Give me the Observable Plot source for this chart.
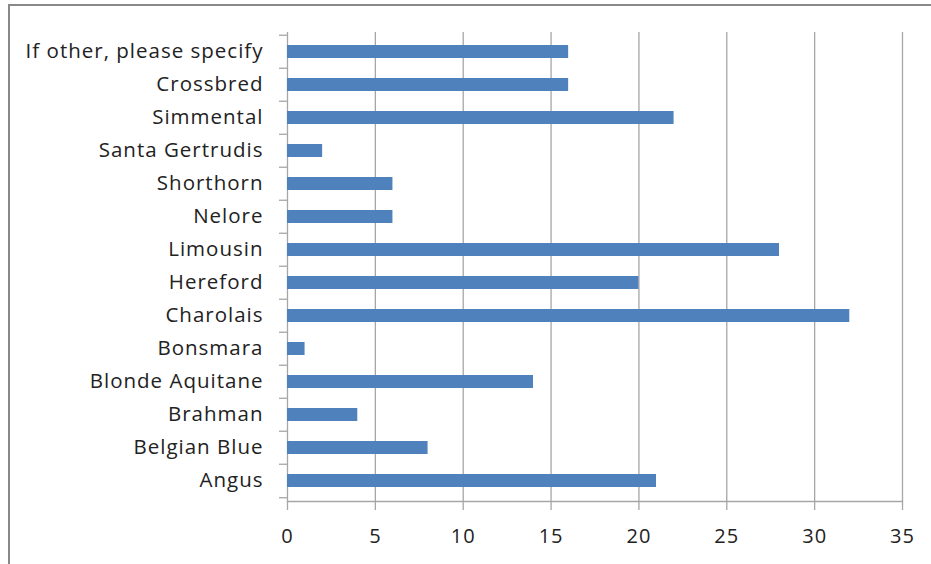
<!DOCTYPE html>
<html>
<head>
<meta charset="utf-8">
<script src="https://cdn.jsdelivr.net/npm/d3@7"></script>
<script src="https://cdn.jsdelivr.net/npm/@observablehq/plot@0.6"></script>
<style>
  html, body { margin: 0; padding: 0; background: #fff; }
  #wrap { position: relative; width: 931px; height: 564px; overflow: hidden; }
  #border { position: absolute; left: 8px; top: 4px; width: 940px; height: 580px;
            border-top: 2px solid #898989; border-left: 2px solid #898989; box-sizing: border-box; }
  #chart { position: absolute; left: 0; top: 0; }
  #chart svg g[aria-label="y-axis tick label"] text { letter-spacing: 1px; }
  #chart svg g[aria-label="x-axis tick label"] text { letter-spacing: 1px; }
</style>
</head>
<body>
<div id="wrap"><div id="border"></div><div id="chart"></div></div>
<script>
const categories = ["If other, please specify", "Crossbred", "Simmental", "Santa Gertrudis", "Shorthorn",
  "Nelore", "Limousin", "Hereford", "Charolais", "Bonsmara", "Blonde Aquitane", "Brahman", "Belgian Blue", "Angus"];
const counts = [16, 16, 22, 2, 6, 6, 28, 20, 32, 1, 14, 4, 8, 21];
const xTicks = [0, 5, 10, 15, 20, 25, 30, 35];

const data = categories.map((c, i) => ({breed: c, count: counts[i]}));

const W = 931, H = 564, mT = 32, mB = 63, mL = 287, mR = 29;
const step = (H - mT - mB) / categories.length;
const grid = "#a6a6a6";
const font = "'Open Sans', 'DejaVu Sans', sans-serif";

const chart = Plot.plot({
  width: W, height: H,
  marginTop: mT, marginBottom: mB, marginLeft: mL, marginRight: mR,
  style: {fontFamily: font, fontSize: "20px", color: "#222", background: "transparent"},
  x: {domain: [0, 35], ticks: xTicks, label: null},
  y: {domain: categories, paddingInner: 0.6, paddingOuter: 0.3, label: null},
  marks: [
    Plot.ruleX(xTicks, {stroke: grid, strokeWidth: 1.3}),
    Plot.frame({anchor: "bottom", stroke: grid, strokeWidth: 1.3}),
    Plot.axisX({ticks: xTicks, tickSize: 9, tickPadding: 18, stroke: grid, strokeWidth: 1.3, fill: "#222", fontSize: 20, label: null}),
    Plot.axisY({tickSize: 8, text: null, dy: -step / 2, stroke: grid, strokeWidth: 1.3, label: null}),
    Plot.axisY({ticks: [categories[categories.length - 1]], tickSize: 8, text: null, dy: step / 2, stroke: grid, strokeWidth: 1.3, label: null}),
    Plot.axisY({tickSize: 0, tickPadding: 24, fill: "#222", fontSize: 20.5, dy: -1, label: null}),
    Plot.barX(data, {y: "breed", x: "count", fill: "#4f81bd"})
  ]
});
document.getElementById("chart").appendChild(chart);
</script>
</body>
</html>
